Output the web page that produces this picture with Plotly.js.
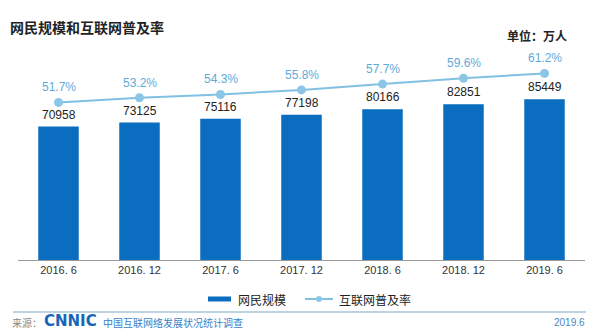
<!DOCTYPE html>
<html>
<head>
<meta charset="utf-8">
<script src="https://cdn.plot.ly/plotly-3.0.1.min.js"></script>
<style>html,body{margin:0;padding:0;background:#fff;}#chart{width:600px;height:332px;}</style>
</head>
<body>
<div id="chart"></div>
<script>
var categories = ["2016. 6", "2016. 12", "2017. 6", "2017. 12", "2018. 6", "2018. 12", "2019. 6"];
var users = [70958, 73125, 75116, 77198, 80166, 82851, 85449];
var penetration = [51.7, 53.2, 54.3, 55.8, 57.7, 59.6, 61.2];
var barName = "网民规模";
var lineName = "互联网普及率";

var L = 18, R = 15, T = 60, B = 72, W = 600, H = 332;
var pw = W - L - R, ph = H - T - B;
function px(x){ return (x - L) / pw; }
function py(y){ return (H - B - y) / ph; }

var cjk = '"Noto Sans CJK SC", sans-serif';
var num = '"Liberation Sans", Arial, sans-serif';

var traces = [
  {
    type: 'bar', x: categories, y: users, name: barName,
    marker: {color: '#0a6dbf'}, yaxis: 'y', hoverinfo: 'x+y'
  },
  {
    type: 'scatter', mode: 'lines+markers', x: categories, y: penetration, name: lineName,
    line: {color: '#82c0e2', width: 2}, marker: {color: '#8cc6e7', size: 9}, yaxis: 'y2'
  }
];

var annotations = [];
categories.forEach(function(c, i){
  annotations.push({x: c, y: users[i], xref: 'x', yref: 'y', text: String(users[i]),
    showarrow: false, yanchor: 'bottom', yshift: 3, font: {family: num, size: 12, color: '#222'}});
  annotations.push({x: c, y: penetration[i], xref: 'x', yref: 'y2', text: penetration[i].toFixed(1) + '%',
    showarrow: false, yanchor: 'bottom', yshift: 6, font: {family: num, size: 12, color: '#5eaad8'}});
});

annotations.push({xref: 'paper', yref: 'paper', x: px(8), y: py(27), xanchor: 'left', yanchor: 'middle',
  text: '<b>网民规模和互联网普及率</b>', showarrow: false, font: {family: cjk, size: 14, color: '#222'}});
annotations.push({xref: 'paper', yref: 'paper', x: px(569), y: py(35), xanchor: 'right', yanchor: 'middle',
  text: '<b>单位：万人</b>', showarrow: false, font: {family: cjk, size: 12, color: '#222'}});
// legend
annotations.push({xref: 'paper', yref: 'paper', x: px(236), y: py(299), xanchor: 'left', yanchor: 'middle',
  text: barName, showarrow: false, font: {family: cjk, size: 12, color: '#222'}});
annotations.push({xref: 'paper', yref: 'paper', x: px(337), y: py(299), xanchor: 'left', yanchor: 'middle',
  text: lineName, showarrow: false, font: {family: cjk, size: 12, color: '#222'}});
// footer
annotations.push({xref: 'paper', yref: 'paper', x: px(11), y: py(322), xanchor: 'left', yanchor: 'middle',
  text: '来源：', showarrow: false, borderpad: 0, font: {family: cjk, size: 10, color: '#888'}});
annotations.push({xref: 'paper', yref: 'paper', x: px(43), y: py(321), xanchor: 'left', yanchor: 'middle',
  text: '<b>CNNIC</b>', showarrow: false, borderpad: 0, font: {family: '"DejaVu Sans", sans-serif', size: 15, color: '#1565b8'}});
annotations.push({xref: 'paper', yref: 'paper', x: px(102), y: py(322), xanchor: 'left', yanchor: 'middle',
  text: '中国互联网络发展状况统计调查', showarrow: false, borderpad: 0, font: {family: cjk, size: 10, color: '#3a7fc6'}});
annotations.push({xref: 'paper', yref: 'paper', x: px(586), y: py(322), xanchor: 'right', yanchor: 'middle',
  text: '2019.6', showarrow: false, borderpad: 0, font: {family: num, size: 10, color: '#4a86bd'}});

var shapes = [
  {type: 'line', xref: 'paper', yref: 'paper', x0: px(208), x1: px(231), y0: py(299), y1: py(299),
    line: {color: '#0a6dbf', width: 5}},
  {type: 'line', xref: 'paper', yref: 'paper', x0: px(305), x1: px(333), y0: py(299), y1: py(299),
    line: {color: '#82c0e2', width: 2}},
  {type: 'circle', xref: 'paper', yref: 'paper', x0: px(316), x1: px(322), y0: py(302), y1: py(296),
    fillcolor: '#8cc6e7', line: {width: 0}},
  {type: 'line', xref: 'paper', yref: 'paper', x0: px(13), x1: px(586), y0: py(312), y1: py(312),
    line: {color: '#a9c4d8', width: 1.5}}
];

var layout = {
  width: W, height: H,
  margin: {l: L, r: R, t: T, b: B, pad: 0},
  paper_bgcolor: '#fff', plot_bgcolor: '#fff',
  showlegend: false,
  bargap: 0.5,
  xaxis: {type: 'category', showline: true, linecolor: '#999', linewidth: 1, ticks: '',
    tickfont: {family: num, size: 11, color: '#333'}, showgrid: false, zeroline: false, fixedrange: true},
  yaxis: {range: [0, 106383], visible: false, showgrid: false, zeroline: false, fixedrange: true},
  yaxis2: {range: [0, 65.6], overlaying: 'y', side: 'right', visible: false, showgrid: false, zeroline: false, fixedrange: true},
  annotations: annotations,
  shapes: shapes
};

Plotly.newPlot('chart', traces, layout, {displayModeBar: false, staticPlot: true});
</script>
</body>
</html>
